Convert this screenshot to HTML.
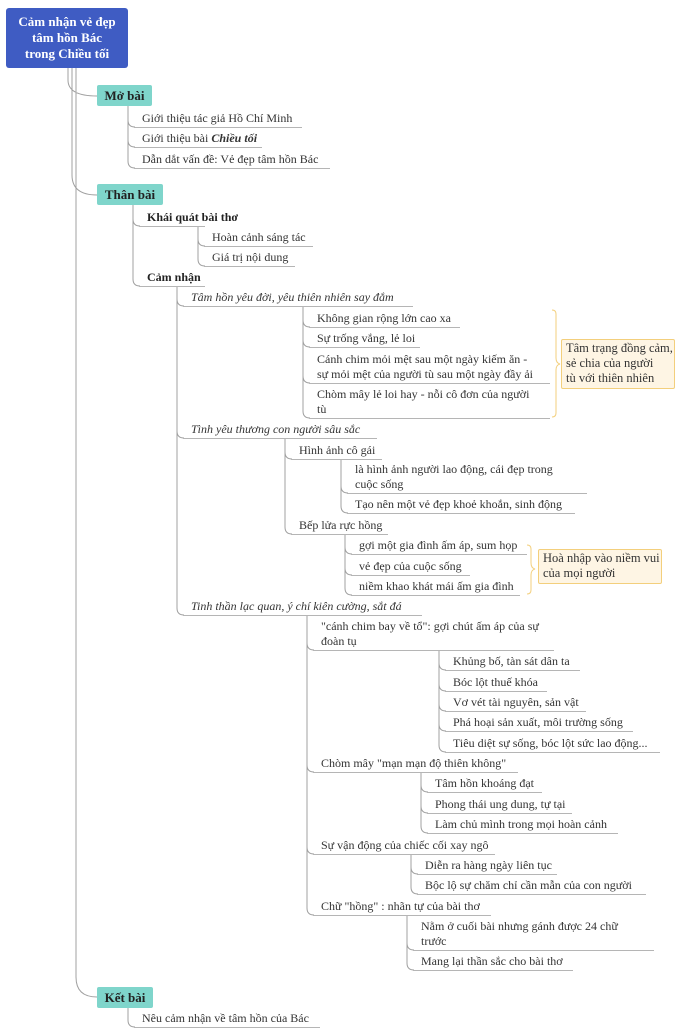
<!DOCTYPE html>
<html><head><meta charset="utf-8">
<style>
body{margin:0;width:680px;height:1036px;background:#fff;position:relative;overflow:hidden;font-family:"Liberation Serif",serif;color:#333}
.n{position:absolute;font-size:12px;line-height:15px;border-bottom:1px solid #b5b5b5;padding:0 0 1px 8px;box-sizing:border-box;white-space:nowrap}
.b{font-weight:bold;color:#222}
.i{font-style:italic}
.box{position:absolute;font-weight:bold;font-size:13px;display:flex;align-items:center;justify-content:center;color:#222}
.t{background:#7fd5cb;border-radius:2px}
.note{position:absolute;background:#fef5e4;border:1px solid #f3cf7c;border-radius:2px;font-size:12.5px;line-height:15px;padding:1px 4px;box-sizing:border-box;white-space:nowrap;overflow:hidden}
svg{position:absolute;left:0;top:0}
</style></head><body>
<svg id="s" width="680" height="1036"></svg>
<div class="box" style="left:6px;top:8px;width:122px;height:60px;background:#3f5cc3;border-radius:3px;color:#fff;text-align:center;line-height:16px;font-size:13px">Cảm nhận vẻ đẹp<br>tâm hồn Bác<br>trong Chiều tối</div>
<div class="box t" style="left:97px;top:85px;width:55px;height:21px">Mở bài</div>
<div class="box t" style="left:97px;top:184px;width:66px;height:21px">Thân bài</div>
<div class="box t" style="left:97px;top:987px;width:56px;height:21px">Kết bài</div>
<div id="nodes">
<div class="n" data-u="127" style="left:134px;width:168px">Giới thiệu tác giả Hồ Chí Minh</div>
<div class="n" data-u="147" style="left:134px;width:128px">Giới thiệu bài <b><i>Chiều tối</i></b></div>
<div class="n" data-u="168" style="left:134px;width:196px">Dẫn dắt vấn đề: Vẻ đẹp tâm hồn Bác</div>
<div class="n b" data-u="226" style="left:139px;width:66px">Khái quát bài thơ</div>
<div class="n" data-u="246" style="left:204px;width:109px">Hoàn cảnh sáng tác</div>
<div class="n" data-u="266" style="left:204px;width:91px">Giá trị nội dung</div>
<div class="n b" data-u="286" style="left:139px;width:66px">Cảm nhận</div>
<div class="n i" data-u="306" style="left:183px;width:230px">Tâm hồn yêu đời, yêu thiên nhiên say đắm</div>
<div class="n" data-u="327" style="left:309px;width:151px">Không gian rộng lớn cao xa</div>
<div class="n" data-u="347" style="left:309px;width:111px">Sự trống vắng, lẻ loi</div>
<div class="n" data-u="383" data-l="2" style="left:309px;width:241px">Cánh chim mỏi mệt sau một ngày kiếm ăn -<br>sự mỏi mệt của người tù sau một ngày đầy ải</div>
<div class="n" data-u="418" data-l="2" style="left:309px;width:241px">Chòm mây lẻ loi hay - nỗi cô đơn của người<br>tù</div>
<div class="n i" data-u="438" style="left:183px;width:194px">Tình yêu thương con người sâu sắc</div>
<div class="n" data-u="459" style="left:291px;width:91px">Hình ảnh cô gái</div>
<div class="n" data-u="493" data-l="2" style="left:347px;width:240px">là hình ảnh người lao động, cái đẹp trong<br>cuộc sống</div>
<div class="n" data-u="513" style="left:347px;width:228px">Tạo nên một vẻ đẹp khoẻ khoắn, sinh động</div>
<div class="n" data-u="534" style="left:291px;width:97px">Bếp lửa rực hồng</div>
<div class="n" data-u="554" style="left:351px;width:176px">gợi một gia đình ấm áp, sum họp</div>
<div class="n" data-u="575" style="left:351px;width:119px">vẻ đẹp của cuộc sống</div>
<div class="n" data-u="595" style="left:351px;width:169px">niềm khao khát mái ấm gia đình</div>
<div class="n i" data-u="615" style="left:183px;width:239px">Tinh thần lạc quan, ý chí kiên cường, sắt đá</div>
<div class="n" data-u="650" data-l="2" style="left:313px;width:241px">"cánh chim bay về tổ": gợi chút ấm áp của sự<br>đoàn tụ</div>
<div class="n" data-u="670" style="left:445px;width:135px">Khủng bố, tàn sát dân ta</div>
<div class="n" data-u="691" style="left:445px;width:102px">Bóc lột thuế khóa</div>
<div class="n" data-u="711" style="left:445px;width:141px">Vơ vét tài nguyên, sản vật</div>
<div class="n" data-u="731" style="left:445px;width:188px">Phá hoại sản xuất, môi trường sống</div>
<div class="n" data-u="752" style="left:445px;width:215px">Tiêu diệt sự sống, bóc lột sức lao động...</div>
<div class="n" data-u="772" style="left:313px;width:205px">Chòm mây "mạn mạn độ thiên không"</div>
<div class="n" data-u="792" style="left:427px;width:115px">Tâm hồn khoáng đạt</div>
<div class="n" data-u="813" style="left:427px;width:145px">Phong thái ung dung, tự tại</div>
<div class="n" data-u="833" style="left:427px;width:191px">Làm chủ mình trong mọi hoàn cảnh</div>
<div class="n" data-u="854" style="left:313px;width:182px">Sự vận động của chiếc cối xay ngô</div>
<div class="n" data-u="874" style="left:417px;width:140px">Diễn ra hàng ngày liên tục</div>
<div class="n" data-u="894" style="left:417px;width:229px">Bộc lộ sự chăm chỉ cần mẫn của con người</div>
<div class="n" data-u="915" style="left:313px;width:178px">Chữ "hồng" : nhãn tự của bài thơ</div>
<div class="n" data-u="950" data-l="2" style="left:413px;width:241px">Nằm ở cuối bài nhưng gánh được 24 chữ<br>trước</div>
<div class="n" data-u="970" style="left:413px;width:160px">Mang lại thần sắc cho bài thơ</div>
<div class="n" data-u="1027" style="left:134px;width:186px">Nêu cảm nhận về tâm hồn của Bác</div>
</div>
<div class="note" style="left:561px;top:339px;width:114px;height:50px">Tâm trạng đồng cảm,<br>sẻ chia của người<br>tù với thiên nhiên</div>
<div class="note" style="left:538px;top:549px;width:124px;height:35px">Hoà nhập vào niềm vui<br>của mọi người</div>
<script>
document.querySelectorAll('.n').forEach(function(e){var u=+e.dataset.u,l=+(e.dataset.l||1);e.style.top=(u-15*l-1)+'px';});
var g=[[128,106,[127,147,168]],[133,205,[226,286]],[198,226,[246,266]],[177,286,[306,438,615]],[303,306,[327,347,383,418]],[285,438,[459,534]],[341,459,[493,513]],[345,534,[554,575,595]],[307,615,[650,772,854,915]],[439,650,[670,691,711,731,752]],[421,772,[792,813,833]],[411,854,[874,894]],[407,915,[950,970]],[128,1008,[1027]]];
var d='';
g.forEach(function(a){var x=a[0],y=a[1];a[2].forEach(function(c){d+='M'+x+','+y+' V'+(c-7)+' Q'+x+','+c+' '+(x+7)+','+c+' ';});});
d+='M68,68 V80 Q68,96 97,96 M72,68 V175 Q72,195 97,195 M76,68 V977 Q76,997 97,997 ';
var b='M552,310 q4,0 4,4 V358 q0,5 4,6 q-4,1 -4,6 V413 q0,4 -4,4 M527,545 q4,0 4,4 V563 q0,5 4,6 q-4,1 -4,6 V590 q0,4 -4,4';
document.getElementById('s').innerHTML='<path d="'+d+'" fill="none" stroke="#a0a0a0" stroke-width="1"/><path d="'+b+'" fill="none" stroke="#f3cf7c" stroke-width="1"/>';
</script>
</body></html>
